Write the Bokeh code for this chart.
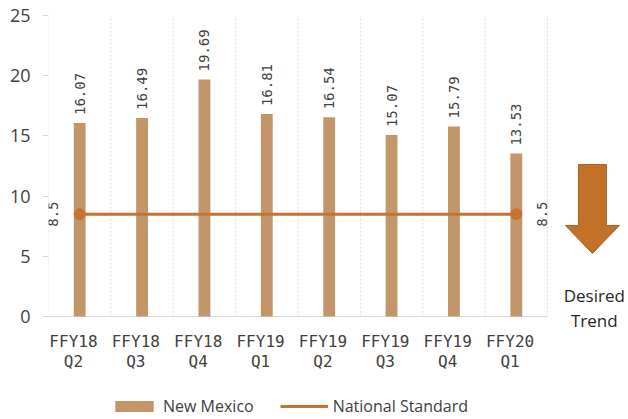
import numpy as np
from bokeh.plotting import figure
from bokeh.models import FixedTicker, Legend, LegendItem, Label, Range1d
from bokeh.core.properties import value
from bokeh.embed import file_html
from bokeh.resources import INLINE

# ---- data ----
quarters = ["FFY18\nQ2", "FFY18\nQ3", "FFY18\nQ4", "FFY19\nQ1",
            "FFY19\nQ2", "FFY19\nQ3", "FFY19\nQ4", "FFY20\nQ1"]
new_mexico = [16.07, 16.49, 19.69, 16.81, 16.54, 15.07, 15.79, 13.53]
national_standard = [8.5, 8.5, 8.5, 8.5, 8.5, 8.5, 8.5, 8.5]
y_ticks = [0, 5, 10, 15, 20, 25]

# ---- styles ----
BAR = "#C39669"
LINE = "#C47430"
ARROW_FILL = "#C27228"
ARROW_EDGE = "#A9611F"
GRID = "#D9D9D9"
TXT = "#404040"
SANS = "Open Sans"
MONO = "DejaVu Sans Mono"

# ---- layout (pixels) ----
W, H = 628, 419
B_LEFT, B_TOP = 48, 15
AXIS_Y = 316                         # pixel row of value 0
CAT_PX = 62.375                      # pixel width of one category
Y_MAX = 25
PX_Y = (AXIS_Y - B_TOP) / Y_MAX

n = len(quarters)
x_end = (W - B_LEFT) / CAT_PX
y_start = -(H - AXIS_Y) / PX_Y       # frame reaches down to the legend
xc = [i + 0.5 for i in range(n)]

p = figure(width=W, height=H, x_range=Range1d(0, x_end), y_range=Range1d(y_start, Y_MAX),
           output_backend="svg", toolbar_location=None,
           min_border_left=B_LEFT, min_border_right=0,
           min_border_top=B_TOP, min_border_bottom=0)
p.outline_line_color = None
p.background_fill_color = "white"
p.border_fill_color = "white"
p.xgrid.grid_line_color = None
p.ygrid.grid_line_color = None

# vertical dotted gridlines at category boundaries (value range only)
bounds = list(range(n + 1))
p.segment(x0=bounds, y0=[0] * len(bounds), x1=bounds, y1=[Y_MAX] * len(bounds),
          line_color=GRID, line_width=1, line_dash="2 2")
# baseline at zero
p.segment(x0=[0], y0=[0], x1=[n], y1=[0], line_color=GRID, line_width=1)

# x axis drawn at value 0 (labels only)
lab_ticks = [c - 0.1 for c in xc]
p.xaxis.fixed_location = 0
p.xaxis.ticker = FixedTicker(ticks=lab_ticks)
p.xaxis.major_label_overrides = {t: q for t, q in zip(lab_ticks, quarters)}
p.xaxis.axis_line_color = None
p.xaxis.major_tick_line_color = None
p.xaxis.minor_tick_line_color = None
p.xaxis.major_tick_out = 0
p.xaxis.major_label_text_font = MONO
p.xaxis.major_label_text_font_size = "16px"
p.xaxis.major_label_text_color = TXT
p.xaxis.major_label_text_line_height = 1.1
p.xaxis.major_label_standoff = 15

# y axis
p.yaxis.ticker = FixedTicker(ticks=y_ticks)
p.yaxis.axis_line_color = None
p.yaxis.major_tick_line_color = GRID
p.yaxis.major_tick_in = 0
p.yaxis.major_tick_out = 6
p.yaxis.minor_tick_line_color = None
p.yaxis.major_label_text_font = SANS
p.yaxis.major_label_text_font_size = "18px"
p.yaxis.major_label_text_color = TXT
p.yaxis.major_label_standoff = 12

# bars
bars = p.vbar(x=xc, top=new_mexico, width=0.19, fill_color=BAR, line_color=None)
p.text(x=xc, y=new_mexico, text=[f"{v:.2f}" for v in new_mexico],
       angle=np.pi / 2, text_align="left", text_baseline="middle", y_offset=-8,
       text_font=value(MONO), text_font_size="14px", text_color=TXT)

# national standard line
line = p.line(x=xc, y=national_standard, line_color=LINE, line_width=3)
ends_x = [xc[0], xc[-1]]
ends_y = [national_standard[0], national_standard[-1]]
p.scatter(x=ends_x, y=ends_y, size=11, fill_color=LINE, line_color=LINE)
p.text(x=ends_x, y=ends_y, text=[f"{v:g}" for v in ends_y], angle=np.pi / 2,
       text_align="center", text_baseline="middle", x_offset=[-27, 26],
       text_font=value(MONO), text_font_size="14px", text_color=TXT)

# desired-trend arrow (decoration to the right of the categories)
ax = n + 0.72
sw, hw = 0.224, 0.433
y_top, y_neck, y_tip = 12.62, 7.56, 5.23
p.patch(x=[ax - sw, ax + sw, ax + sw, ax + hw, ax, ax - hw, ax - sw, ax - sw],
        y=[y_top, y_top, y_neck, y_neck, y_tip, y_neck, y_neck, y_top],
        fill_color=ARROW_FILL, line_color=ARROW_EDGE, line_width=1)
p.add_layout(Label(x=ax + 0.03, y=1.74, text="Desired", text_align="center",
                   text_baseline="alphabetic", text_font=SANS, text_font_size="17px",
                   text_color="#262626"))
p.add_layout(Label(x=ax + 0.03, y=-0.33, text="Trend", text_align="center",
                   text_baseline="alphabetic", text_font=SANS, text_font_size="17px",
                   text_color="#262626"))

legend = Legend(items=[LegendItem(label="New Mexico", renderers=[bars]),
                       LegendItem(label="National Standard", renderers=[line])],
                orientation="horizontal", location=(62, 2),
                glyph_width=48, glyph_height=14, label_standoff=5, spacing=26,
                padding=0, margin=0, border_line_color=None,
                background_fill_alpha=0,
                label_text_font=SANS, label_text_font_size="16px",
                label_text_color=TXT)
p.add_layout(legend)

open("out.html", "w").write(file_html(p, INLINE))
